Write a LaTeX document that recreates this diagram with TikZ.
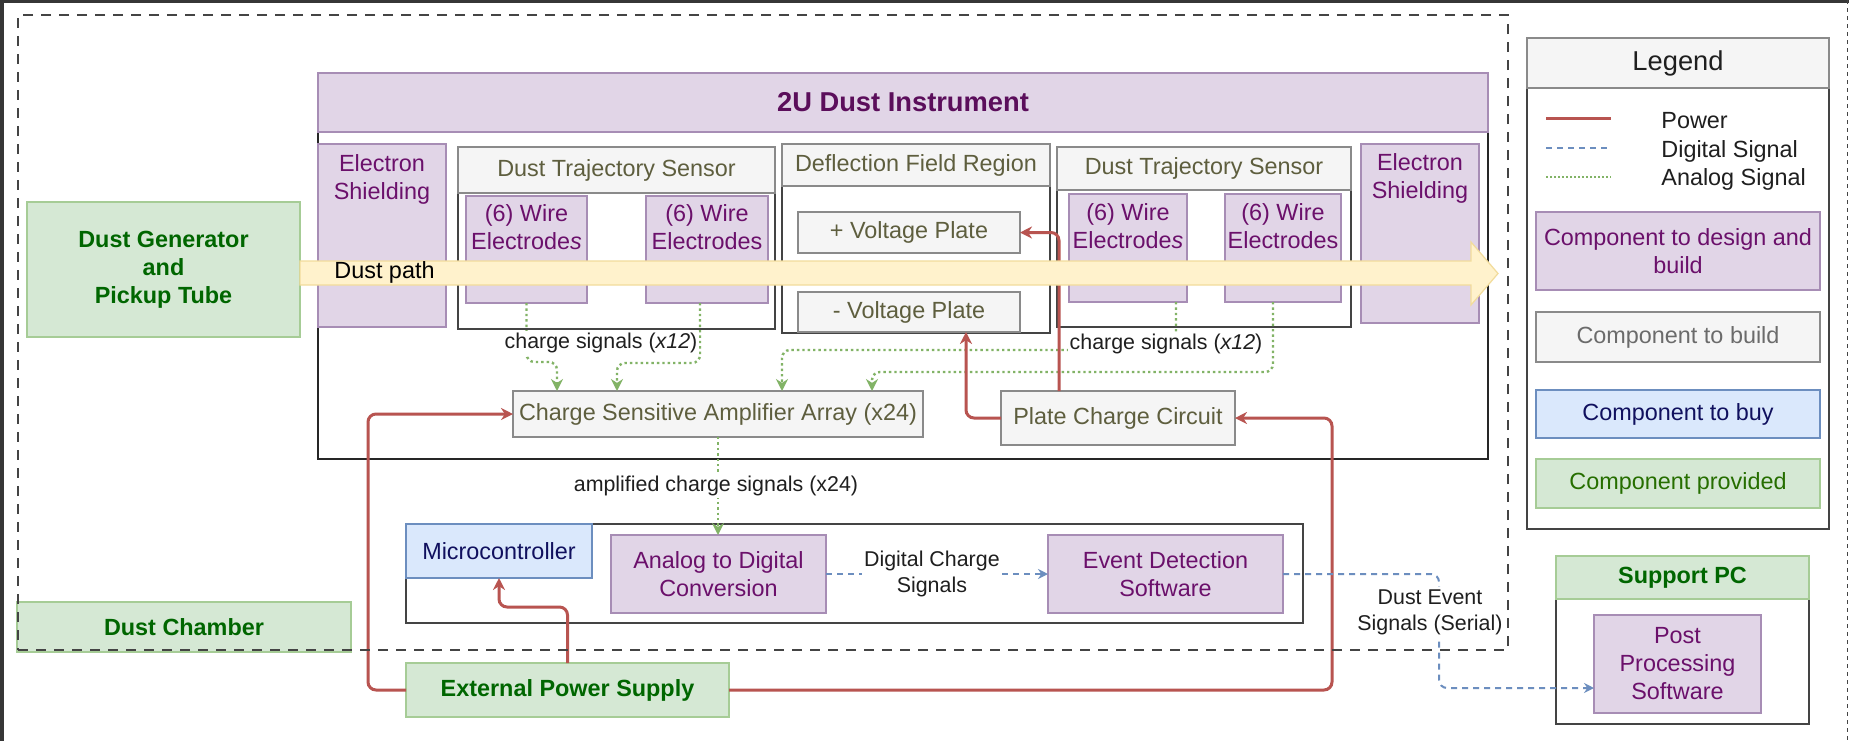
\documentclass[tikz,border=0pt]{standalone}
\usepackage{fontspec}
\setmainfont{Liberation Sans}
\usetikzlibrary{arrows.meta}
\definecolor{pfill}{HTML}{E1D5E7}
\definecolor{pline}{HTML}{A78DB5}
\definecolor{ptext}{HTML}{6B106B}
\definecolor{gfill}{HTML}{F5F5F5}
\definecolor{gline}{HTML}{8A8A8A}
\definecolor{gtext}{HTML}{5E5E3E}
\definecolor{grfill}{HTML}{D5E8D4}
\definecolor{grline}{HTML}{A6CC96}
\definecolor{grtext}{HTML}{006600}
\definecolor{bfill}{HTML}{DAE8FC}
\definecolor{bline}{HTML}{6C8EBF}
\definecolor{btext}{HTML}{10105E}
\definecolor{pwr}{HTML}{B85450}
\definecolor{ana}{HTML}{82B366}
\definecolor{dig}{HTML}{6C8EBF}
\definecolor{ylw}{HTML}{FFF2CC}
\definecolor{ylwline}{HTML}{F2DC9B}
\definecolor{frame}{HTML}{444444}
\definecolor{txt}{HTML}{1F1F1F}
\newcommand\mkbox[7]{\node[#1, minimum width={(#5-#3)*0.5pt}, minimum height={(#6-#4)*0.5pt}] (#2) at ({(#3+#5)/2},{(#4+#6)/2}) {#7};}
\begin{document}
\begin{tikzpicture}[x=0.5pt,y=-0.5pt,
  font=\fontsize{11.7}{14}\selectfont,
  base/.style={rectangle, inner sep=2pt, outer sep=0pt, align=center, line width=0.75pt},
  pbox/.style={base, fill=pfill, draw=pline, text=ptext},
  gbox/.style={base, fill=gfill, draw=gline, text=gtext},
  grbox/.style={base, fill=grfill, draw=grline, text=grtext, font=\bfseries\fontsize{11.7}{14}\selectfont},
  bbox/.style={base, fill=bfill, draw=bline, text=btext},
  wbox/.style={base, fill=white, draw=frame, line width=0.7pt},
  outline/.style={base, draw=black!85, line width=1.3pt},
  dashbox/.style={base, draw=frame, line width=1.4pt, dash pattern=on 5pt off 4pt},
  ptxt/.style={align=center, text=ptext, inner sep=0pt},
  lbl/.style={fill=white, inner sep=1pt, font=\fontsize{10.7}{13}\selectfont, align=center, text=txt},
  power/.style={draw=pwr, line width=1.5pt, rounded corners=4pt, -{Stealth[length=6pt,width=6pt]}},
  analog/.style={draw=ana, line width=1.2pt, dash pattern=on 1.2pt off 1.5pt, rounded corners=4pt, -{Stealth[length=6pt,width=6pt]}},
  digital/.style={draw=dig, line width=1pt, dash pattern=on 3pt off 2.5pt, rounded corners=4pt, -{Stealth[length=5pt,width=5pt]}}
]
\fill[white] (0,0) rectangle (1849,741);
\useasboundingbox (0,0) rectangle (1849,741);
\fill[frame!80!black] (0,0) rectangle (4,741);
\fill[frame!80!black] (0,0) rectangle (1849,3);
\draw[frame, line width=0.75pt, dash pattern=on 2pt off 2pt] (1847.5,0) -- (1847.5,741);

% dust chamber label
\mkbox{grbox}{dc}{17}{602}{351}{652}{Dust Chamber}

% instrument
\mkbox{outline}{inst}{318}{132}{1488}{459}{}
\mkbox{pbox, text=ptext!85!black, font=\bfseries\fontsize{13.65}{16}\selectfont}{insth}{318}{73}{1488}{132}{2U Dust Instrument}

\mkbox{pbox}{esl}{318}{144}{446}{327}{}
\node[ptxt] (eslt) at (382,179) {Electron\\Shielding};
\mkbox{pbox}{esr}{1361}{144}{1479}{323}{}
\node[ptxt] (esrt) at (1420,178) {Electron\\Shielding};

\mkbox{wbox}{dtsl}{458}{193}{775}{329}{}
\mkbox{gbox}{dtslh}{458}{147}{775}{193}{Dust Trajectory Sensor}
\mkbox{wbox}{dfr}{782}{186}{1050}{333}{}
\mkbox{gbox}{dfrh}{782}{144}{1050}{186}{Deflection Field Region}
\mkbox{wbox}{dtsr}{1057}{190}{1351}{327}{}
\mkbox{gbox}{dtsrh}{1057}{147}{1351}{190}{Dust Trajectory Sensor}

\mkbox{pbox}{w1}{466}{196}{587}{303}{}
\node[ptxt] (w1t) at (526.5,227.5) {(6) Wire\\Electrode\textit{s}};
\mkbox{pbox}{w2}{646}{196}{768}{303}{}
\node[ptxt] (w2t) at (707,227.5) {(6) Wire\\Electrodes};
\mkbox{pbox}{w3}{1069}{194}{1187}{302}{}
\node[ptxt] (w3t) at (1128,226) {(6) Wire\\Electrode\textit{s}};
\mkbox{pbox}{w4}{1225}{194}{1341}{302}{}
\node[ptxt] (w4t) at (1283,226) {(6) Wire\\Electrodes};

\mkbox{gbox}{vpp}{798}{212}{1020}{253}{+ Voltage Plate}
\mkbox{gbox}{vpm}{798}{292}{1020}{332}{- Voltage Plate}

\mkbox{gbox}{csa}{513}{391}{923}{437}{Charge Sensitive Amplifier Array (x24)}
\mkbox{gbox}{pcc}{1001}{391}{1235}{445}{Plate Charge Circuit}

% processing
\mkbox{wbox}{proc}{406}{524}{1303}{623}{}
\mkbox{bbox}{mc}{406}{524}{592}{578}{Microcontroller}
\mkbox{pbox}{adc}{611}{535}{826}{613}{Analog to Digital\\Conversion}
\mkbox{pbox}{ed}{1048}{535}{1283}{613}{Event Detection\\Software}
\mkbox{grbox}{eps}{406}{663}{729}{717}{External Power Supply}
\mkbox{grbox}{dg}{27}{202}{300}{337}{Dust Generator\\and\\Pickup Tube}

% legend
\mkbox{wbox}{leg}{1527}{88}{1829}{529}{}
\mkbox{gbox, text=txt, font=\fontsize{13.65}{16}\selectfont}{legh}{1527}{38}{1829}{88}{Legend}
\coordinate (lp1) at (1546,118); \coordinate (lp2) at (1611,118);
\coordinate (ld1) at (1546,148); \coordinate (ld2) at (1611,148);
\coordinate (la1) at (1546,177); \coordinate (la2) at (1611,177);
\draw[pwr, line width=1.5pt] (lp1) -- (lp2);
\draw[dig, line width=1pt, dash pattern=on 3pt off 2.5pt] (ld1) -- (ld2);
\draw[ana, line width=1pt, dash pattern=on 1pt off 1pt] (la1) -- (la2);
\node[anchor=base west, text=txt, inner sep=0pt] (lt1) at (1661,128) {Power};
\node[anchor=base west, text=txt, inner sep=0pt] (lt2) at (1661,157) {Digital Signal};
\node[anchor=base west, text=txt, inner sep=0pt] (lt3) at (1661,185) {Analog Signal};
\mkbox{pbox}{lg1}{1536}{212}{1820}{290}{Component to design and\\build}
\mkbox{gbox, text=black!58}{lg2}{1536}{312}{1820}{362}{Component to build}
\mkbox{bbox}{lg3}{1536}{390}{1820}{438}{Component to buy}
\mkbox{base, fill=grfill, draw=grline, text=grtext!70!olive}{lg4}{1536}{459}{1820}{508}{Component provided}

% support pc
\mkbox{wbox}{spc}{1556}{599}{1809}{724}{}
\mkbox{grbox}{spch}{1556}{556}{1809}{599}{Support PC}
\mkbox{pbox}{pps}{1594}{615}{1761}{713}{Post\\Processing\\Software}

% analog connectors
\draw[analog] (w1.south) -- ++(0,59) -| ([xshift=22pt]csa.north west);
\draw[analog] ([xshift=-3.5pt]w2.south) -- ++(0,60) -| ([xshift=52pt]csa.north west);
\draw[analog] ([xshift=24pt]w3.south) -- ++(0,48) -| ([xshift=134.5pt]csa.north west);
\draw[analog] ([xshift=-5pt]w4.south) -- ++(0,70) -| ([xshift=179.5pt]csa.north west);
\draw[analog] (csa.south) -- (csa.south |- adc.north)
  node[lbl, midway, xshift=-1pt] (amp) {amplified charge signals (x24)};

% power connectors
\draw[power] (eps.west) -- ++(-38,0) |- (csa.west);
\draw[power] (eps.north) -- ++(0,-56) -| (mc.south);
\draw[power] (eps.east) -- ++(603,0) |- (pcc.east);
\draw[power] (pcc.west) -| ([xshift=28.5pt]vpm.south);
\draw[power] ([xshift=-29.5pt]pcc.north) |- (vpp.east);

% digital connectors
\draw[digital] (adc.east) -- (ed.west) node[lbl, pos=0.477] (dcs) {Digital Charge\\Signals};
\draw[digital] (ed.east) -- ++(156,0) |- ([yshift=-12pt]pps.west);

% dust path
\draw[fill=ylw, draw=ylwline, line width=0.6pt] (dg.east |- 0,261) -- (1471,261) -- (1471,242) -- (1498,273.5) -- (1471,305) -- (1471,285) -- (dg.east |- 0,285) -- cycle;
\node[anchor=base west, text=black, inner sep=0pt] (dpt) at (334,278) {Dust path};

% chamber
\mkbox{dashbox}{chamber}{18}{15}{1508}{650}{}

% labels
\node[lbl] (cs1) at (601,343) {charge signals (\textit{x12})};
\node[lbl] (cs2) at (1166,344) {charge signals (\textit{x12})};
\node[lbl] (des) at (1430,612) {Dust Event\\Signals (Serial)};
\end{tikzpicture}
\end{document}
